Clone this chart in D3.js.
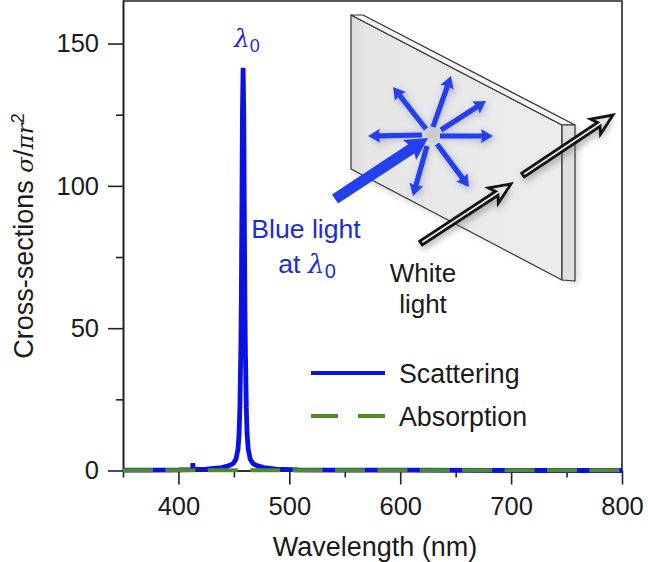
<!DOCTYPE html>
<html>
<head>
<meta charset="utf-8">
<script src="https://d3js.org/d3.v7.min.js"></script>
<style>
  html, body { margin: 0; padding: 0; background: #fff; }
  text { font-family: "Liberation Sans", sans-serif; fill: #1a1a1a; }
  .sym { font-family: "DejaVu Serif", serif; font-style: italic; }
</style>
</head>
<body>
<svg id="chart" width="648" height="562"></svg>
<script>
// values
var wavelengths = [350, 380, 400, 412.9, 413, 413.1, 425, 439, 445, 449.3, 451.9, 453.7, 454.7, 455.4, 456.3, 456.7, 457.2, 457.7, 458.3, 458.9, 459.4, 459.9, 460.3, 461.2, 461.9, 462.9, 464.7, 467.3, 471.3, 477.3, 488, 508, 540, 600, 700, 800];
var scattering  = [0.1, 0.1, 0.2, 0.3, 2.6, 0.4, 0.5, 1, 1.6, 2.4, 4, 7.5, 13, 22, 44, 60, 90, 125, 141.5, 125, 90, 60, 44, 22, 13, 7.5, 4, 2.4, 1.6, 1, 0.5, 0.25, 0.15, 0.1, 0, 0];
var absorptionX = [350, 800];
var absorption  = [0.05, 0.05];
var xTicks = [400, 500, 600, 700, 800];
var xMinorTicks = [350, 450, 550, 650, 750];
var yTicks = [0, 50, 100, 150];
var yMinorTicks = [25, 75, 125];
var legendNames = ["Scattering", "Absorption"];

var blue = "#0a10e6", green = "#4f8a2b", textBlue = "#1c2bd6", arrowBlue = "#2440ee";

var svg = d3.select("#chart");
var x = d3.scaleLinear().domain([350, 800]).range([123, 622]);
var y = d3.scaleLinear().domain([0, 165.3]).range([470.5, 0]);

var defs = svg.append("defs");
defs.append("filter").attr("id", "soft").attr("x", "-30%").attr("y", "-30%").attr("width", "160%").attr("height", "160%")
  .append("feGaussianBlur").attr("stdDeviation", 3);
var grad = defs.append("linearGradient").attr("id", "plate").attr("x1", 0).attr("x2", 1).attr("y1", 0).attr("y2", 0);
grad.append("stop").attr("offset", 0).attr("stop-color", "#dcdcdc");
grad.append("stop").attr("offset", 0.08).attr("stop-color", "#e6e6e6");
grad.append("stop").attr("offset", 1).attr("stop-color", "#ececec");

// frame, top and right
svg.append("path").attr("d", "M123,1H622V470.5").attr("fill", "none").attr("stroke", "#222").attr("stroke-width", 1.6);

// schematic
var sk = svg.append("g").attr("class", "schematic");
function poly(pts, fill, stroke, w) {
  return sk.append("polygon").attr("points", pts.join(" ")).attr("fill", fill)
    .attr("stroke", stroke).attr("stroke-width", w).attr("stroke-linejoin", "round");
}
poly([[353,20],[578,128],[578,285],[353,174]], "#888", "none", 0).attr("filter", "url(#soft)").attr("opacity", 0.35);
poly([[351,15],[562,125],[562,280],[351,169]], "url(#plate)", "#333", 1.2);
poly([[351,15],[363,15],[575,125],[562,125]], "#f4f4f4", "#333", 1.2);
poly([[562,125],[575,125],[575,281],[562,280]], "#dde1e1", "#333", 1.2);
sk.append("circle").attr("cx", 432).attr("cy", 135).attr("r", 8).attr("fill", "#c8c8c8").attr("filter", "url(#soft)");

function arrowPts(x1, y1, x2, y2, sw, hl, hw, notch) {
  var a = Math.atan2(y2 - y1, x2 - x1), c = Math.cos(a), s = Math.sin(a);
  var p = function(along, off) { return [x2 + along * c - off * s, y2 + along * s + off * c]; };
  var back = function(off) { return [x1 - off * s, y1 + off * c]; };
  return [back(-sw / 2), p(-hl + notch, -sw / 2), p(-hl, -hw / 2), p(0, 0), p(-hl, hw / 2), p(-hl + notch, sw / 2), back(sw / 2)];
}
var spokes = [[422,135,368,136],[426,129,393,87],[433,127,451,76],[441,130,486,101],[440,136,493,136],[437,144,469,187],[427,146,413,196]];
var spokeG = sk.append("g");
spokes.forEach(function(d) {
  spokeG.append("polygon").attr("points", arrowPts(d[0], d[1], d[2] + 2, d[3] + 3, 6, 13, 15, 1).join(" "))
    .attr("fill", "#5f6cc0").attr("opacity", 0.4).attr("filter", "url(#soft)");
});
spokes.forEach(function(d) {
  spokeG.append("polygon").attr("points", arrowPts(d[0], d[1], d[2], d[3], 5.2, 12, 14, 1).join(" ")).attr("fill", arrowBlue);
});
spokeG.append("polygon").attr("points", arrowPts(335, 199, 428, 138, 11, 22, 24, 2).join(" ")).attr("fill", arrowBlue);

[[421,243,511,184],[523,175,613,115]].forEach(function(d) {
  sk.append("polygon").attr("points", arrowPts(d[0], d[1] + 4, d[2] + 1, d[3] + 5, 8, 22, 21, 3).join(" "))
    .attr("fill", "#666").attr("opacity", 0.45).attr("filter", "url(#soft)");
  sk.append("polygon").attr("points", arrowPts(d[0], d[1], d[2], d[3], 4.6, 21, 18, 4).join(" "))
    .attr("fill", "#e4e4e4").attr("stroke", "#111").attr("stroke-width", 2.8).attr("stroke-linejoin", "miter");
});

// axes
var axisX = svg.append("g").attr("transform", "translate(0,470.5)");
axisX.call(d3.axisBottom(x).tickValues(xTicks).tickSize(14).tickSizeOuter(0).tickPadding(12).tickFormat(d3.format("d")));
var axisXMinor = svg.append("g").attr("transform", "translate(0,470.5)");
axisXMinor.call(d3.axisBottom(x).tickValues(xMinorTicks).tickSize(7).tickSizeOuter(0).tickFormat(""));
var axisY = svg.append("g").attr("transform", "translate(123,0)");
axisY.call(d3.axisLeft(y).tickValues(yTicks).tickSize(15).tickSizeOuter(0).tickPadding(9).tickFormat(d3.format("d")));
var axisYMinor = svg.append("g").attr("transform", "translate(123,0)");
axisYMinor.call(d3.axisLeft(y).tickValues(yMinorTicks).tickSize(7).tickSizeOuter(0).tickFormat(""));
svg.selectAll(".domain").attr("stroke", "#222").attr("stroke-width", 1.6);
svg.selectAll(".tick line").attr("stroke", "#222").attr("stroke-width", 1.6);
svg.selectAll(".tick text").attr("font-size", 25.5).style("font-family", "'Liberation Sans', sans-serif").attr("fill", "#1a1a1a");

// curves, the green dashes cover the blue baseline and the peak stays in the gap
var line = d3.line().x(function(d) { return x(d[0]); }).y(function(d) { return y(d[1]); });
svg.append("path").datum(d3.zip(wavelengths, scattering)).attr("d", line)
  .attr("fill", "none").attr("stroke", blue).attr("stroke-width", 4.8).attr("stroke-linejoin", "bevel");
svg.append("path").datum(d3.zip(absorptionX, absorption)).attr("d", line)
  .attr("fill", "none").attr("stroke", green).attr("stroke-width", 4).attr("stroke-dasharray", "30,12.4");

// axis titles
svg.append("text").attr("x", 375).attr("y", 556).attr("text-anchor", "middle").attr("font-size", 27).text("Wavelength (nm)");
var yTitle = svg.append("text").attr("transform", "translate(33,236) rotate(-90)").attr("text-anchor", "middle").attr("font-size", 27);
yTitle.append("tspan").text("Cross-sections ");
yTitle.append("tspan").attr("class", "sym").attr("font-size", 23).text("σ");
yTitle.append("tspan").text("/");
yTitle.append("tspan").attr("class", "sym").attr("font-size", 23).text("πr");
yTitle.append("tspan").attr("font-size", 18).attr("dy", -9).text("2");

// annotations
var lam = svg.append("text").attr("x", 234).attr("y", 47).attr("font-size", 25).style("fill", textBlue);
lam.append("tspan").attr("class", "sym").style("fill", textBlue).text("λ");
lam.append("tspan").attr("font-size", 18).attr("dy", 5).style("fill", textBlue).text("0");
svg.append("text").attr("x", 306).attr("y", 238).attr("text-anchor", "middle").attr("font-size", 26.6).style("fill", textBlue).text("Blue light");
var at = svg.append("text").attr("x", 307).attr("y", 273).attr("text-anchor", "middle").attr("font-size", 26.6).style("fill", textBlue);
at.append("tspan").style("fill", textBlue).text("at ");
at.append("tspan").attr("class", "sym").style("fill", textBlue).text("λ");
at.append("tspan").attr("font-size", 20).attr("dy", 5).style("fill", textBlue).text("0");
svg.append("text").attr("x", 423).attr("y", 282).attr("text-anchor", "middle").attr("font-size", 26).text("White");
svg.append("text").attr("x", 423).attr("y", 313).attr("text-anchor", "middle").attr("font-size", 26).text("light");

// legend
svg.append("line").attr("x1", 311).attr("x2", 385).attr("y1", 373).attr("y2", 373).attr("stroke", blue).attr("stroke-width", 4.2);
svg.append("line").attr("x1", 311).attr("x2", 385).attr("y1", 416).attr("y2", 416).attr("stroke", green).attr("stroke-width", 4.2).attr("stroke-dasharray", "27,20");
svg.selectAll(".legend-label").data(legendNames).enter().append("text").attr("class", "legend-label")
  .attr("x", 399).attr("y", function(d, i) { return 383 + i * 43; }).attr("font-size", 26.8).text(function(d) { return d; });
</script>
</body>
</html>
